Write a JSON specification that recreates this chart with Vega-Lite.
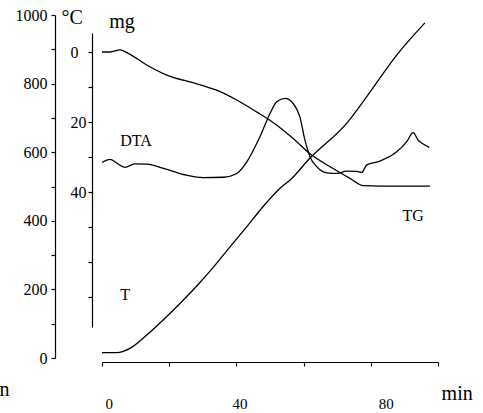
{
  "$schema": "https://vega.github.io/schema/vega-lite/v6.json",
  "width": 336,
  "height": 347,
  "autosize": {"type": "none"},
  "padding": {"left": 102, "top": 15, "right": 45, "bottom": 51},
  "background": "white",
  "config": {
    "view": {"stroke": null},
    "font": "Liberation Serif",
    "axis": {"domainColor": "black", "tickColor": "black", "labelColor": "black", "labelFont": "Liberation Serif", "grid": false, "domainWidth": 1.2, "tickWidth": 1.2}
  },
  "datasets": {
    "T": [
      {"min": 0, "temp": 15.5}, {"min": 4.4, "temp": 15.5}, {"min": 8.3, "temp": 28}, {"min": 13.3, "temp": 67},
      {"min": 18.2, "temp": 111}, {"min": 23.2, "temp": 159}, {"min": 28.2, "temp": 210}, {"min": 33.1, "temp": 264},
      {"min": 38.1, "temp": 324}, {"min": 43.1, "temp": 383}, {"min": 47.9, "temp": 441}, {"min": 53, "temp": 495},
      {"min": 56, "temp": 519}, {"min": 61.9, "temp": 583}, {"min": 72.8, "temp": 684}, {"min": 78.8, "temp": 762},
      {"min": 87.7, "temp": 883}, {"min": 96.1, "temp": 977}
    ],
    "TG": [
      {"min": 0, "mass": 0}, {"min": 2.4, "mass": 0}, {"min": 5.4, "mass": -0.6}, {"min": 7.8, "mass": 0.4},
      {"min": 13.3, "mass": 3.7}, {"min": 19.3, "mass": 6.6}, {"min": 28.2, "mass": 9.1}, {"min": 35.1, "mass": 11.3},
      {"min": 40.1, "mass": 13.7}, {"min": 46.0, "mass": 17.1}, {"min": 51.0, "mass": 20.2}, {"min": 56.9, "mass": 24.7},
      {"min": 61.9, "mass": 29.1}, {"min": 67.9, "mass": 32.8}, {"min": 73.8, "mass": 36.1}, {"min": 77.8, "mass": 38.2},
      {"min": 82.7, "mass": 38.3}, {"min": 97.6, "mass": 38.3}
    ],
    "DTA": [
      {"min": 0, "dta": 57.0}, {"min": 2.4, "dta": 57.9}, {"min": 4.4, "dta": 56.8}, {"min": 6.8, "dta": 55.6},
      {"min": 9.8, "dta": 56.6}, {"min": 13.3, "dta": 56.5}, {"min": 19.3, "dta": 55.0}, {"min": 25.2, "dta": 53.3},
      {"min": 30.1, "dta": 52.6}, {"min": 36.1, "dta": 52.7}, {"min": 40.1, "dta": 53.8}, {"min": 43.1, "dta": 57.2},
      {"min": 47.0, "dta": 64.5}, {"min": 50.0, "dta": 71.3}, {"min": 52.0, "dta": 74.7}, {"min": 54.5, "dta": 75.7},
      {"min": 56.9, "dta": 74.2}, {"min": 58.9, "dta": 70.3}, {"min": 60.4, "dta": 63.5}, {"min": 61.9, "dta": 58.7},
      {"min": 63.9, "dta": 55.8}, {"min": 66.9, "dta": 54.0}, {"min": 69.8, "dta": 53.8}, {"min": 72.8, "dta": 54.5},
      {"min": 75.8, "dta": 54.4}, {"min": 77.3, "dta": 54.1}, {"min": 78.8, "dta": 56.3}, {"min": 82.7, "dta": 57.4},
      {"min": 87.7, "dta": 60.1}, {"min": 90.7, "dta": 63.1}, {"min": 92.6, "dta": 65.7}, {"min": 94.1, "dta": 63.5},
      {"min": 95.6, "dta": 62.4}, {"min": 97.4, "dta": 61.4}
    ],
    "bigLabels": [
      {"min": -8.9, "temp": 991, "label": "°C"},
      {"min": 5.95, "temp": 979, "label": "mg"},
      {"min": 105.7, "temp": -105, "label": "min"},
      {"min": -29, "temp": -93, "label": "n"}
    ],
    "smallLabels": [
      {"min": 10.1, "temp": 633, "label": "DTA"},
      {"min": 92.6, "temp": 414, "label": "TG"},
      {"min": 6.85, "temp": 184, "label": "T"}
    ]
  },
  "encoding": {
    "x": {
      "field": "min", "type": "quantitative",
      "scale": {"domain": [0, 100], "nice": false, "zero": false},
      "axis": {
        "values": [0, 20, 40, 60, 80, 100],
        "labelExpr": "datum.value == 0 || datum.value == 40 || datum.value == 80 ? datum.label : ''",
        "labelOffset": {"condition": {"test": "datum.value == 80", "value": 15}, "value": 3},
        "tickSize": 4, "labelPadding": 30, "labelFontSize": 15, "title": null, "domainWidth": 1
      }
    }
  },
  "layer": [
    {
      "data": {"name": "T"},
      "mark": {"type": "line", "color": "black", "strokeWidth": 1.3, "interpolate": "monotone"},
      "encoding": {
        "y": {
          "field": "temp", "type": "quantitative",
          "scale": {"domain": [0, 1000], "range": [343, 0], "nice": false, "zero": false},
          "axis": {
            "orient": "left", "offset": 47,
            "values": [0, 100, 200, 300, 400, 500, 600, 700, 800, 900, 1000],
            "labelExpr": "datum.value % 200 == 0 ? datum.label : ''",
            "format": "d",
            "tickSize": 4, "labelPadding": 4, "labelFontSize": 16, "title": null
          }
        }
      }
    },
    {
      "data": {"name": "TG"},
      "mark": {"type": "line", "color": "black", "strokeWidth": 1.3, "interpolate": "monotone"},
      "encoding": {
        "y": {
          "field": "mass", "type": "quantitative",
          "scale": {"domain": [-5.43, 78.57], "range": [18, 312], "nice": false, "zero": false},
          "axis": {
            "orient": "left", "offset": 10,
            "values": [0, 10, 20, 30, 40, 50, 60, 70],
            "labelExpr": "datum.value == 0 || datum.value == 20 || datum.value == 40 ? datum.label : ''",
            "tickSize": 4, "labelPadding": 18, "labelAlign": "left", "labelFontSize": 16, "title": null
          }
        }
      }
    },
    {
      "data": {"name": "DTA"},
      "mark": {"type": "line", "color": "black", "strokeWidth": 1.3, "interpolate": "monotone"},
      "encoding": {
        "y": {
          "field": "dta", "type": "quantitative",
          "scale": {"domain": [0, 100], "range": [343, 0], "nice": false, "zero": false},
          "axis": null
        }
      }
    },
    {
      "data": {"name": "bigLabels"},
      "mark": {"type": "text", "color": "black", "fontSize": 20, "font": "Liberation Serif"},
      "encoding": {
        "y": {"field": "temp", "type": "quantitative", "scale": {"domain": [0, 1000], "range": [343, 0], "nice": false, "zero": false}, "axis": null},
        "text": {"field": "label"}
      }
    },
    {
      "data": {"name": "smallLabels"},
      "mark": {"type": "text", "color": "black", "fontSize": 16, "font": "Liberation Serif"},
      "encoding": {
        "y": {"field": "temp", "type": "quantitative", "scale": {"domain": [0, 1000], "range": [343, 0], "nice": false, "zero": false}, "axis": null},
        "text": {"field": "label"}
      }
    }
  ],
  "resolve": {"scale": {"y": "independent"}}
}
